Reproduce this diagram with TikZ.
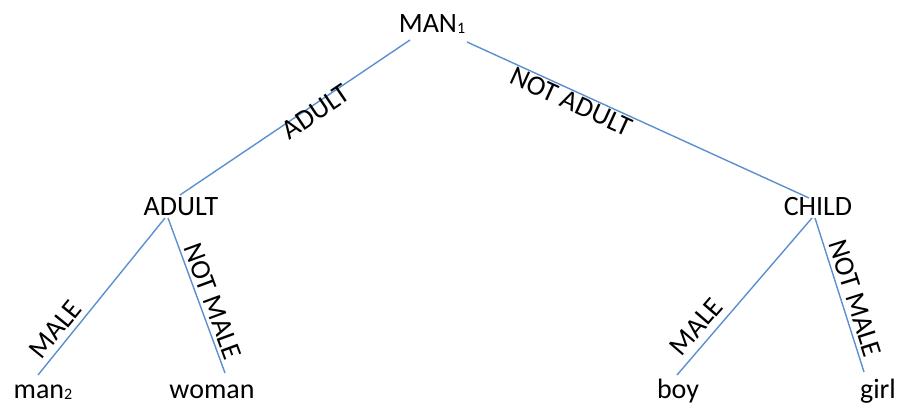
\documentclass[tikz,border=0pt]{standalone}
\usepackage{fontspec}
\setmainfont{Carlito}
\definecolor{edgeblue}{RGB}{91,143,208}
\newcommand{\subnum}[1]{\raisebox{-1pt}{\fontsize{16}{16}\selectfont #1}}
\begin{document}
\begin{tikzpicture}[x=1pt,y=-1pt,
  every node/.style={font=\fontsize{28}{34}\selectfont, text=black},
  word/.style={anchor=base, inner sep=0pt},
  link/.style={draw=edgeblue, line width=1.4pt},
  elabel/.style={sloped, inner sep=0pt, anchor=center}]
\useasboundingbox (0,0) rectangle (902,403);
\node[word] (man) at (432,33) {MAN\subnum{1}};
\node[word] (adult) at (181,216) {ADULT};
\node[word] (child) at (818,216) {CHILD};
\node[word] (man2) at (43,398) {man\subnum{2}};
\node[word] (woman) at (212,398) {woman};
\node[word] (boy) at (678,398) {boy};
\node[word] (girl) at (878,398) {girl};

\draw[link] ([xshift=-1pt,yshift=21pt]adult.base) -- node[elabel, pos=0.574, yshift=-7pt] (l1) {ADULT} ([xshift=-22pt,yshift=-7pt]man.base);
\draw[link] ([xshift=35pt,yshift=-9pt]man.base) -- node[elabel, pos=0.318, yshift=-11pt] (l2) {NOT ADULT} ([xshift=-9pt,yshift=18pt]child.base);
\draw[link] ([xshift=-5pt,yshift=23pt]man2.base) -- node[elabel, pos=0.23, yshift=15pt] (l3) {MALE} ([xshift=-16pt,yshift=-2pt]adult.base);
\draw[link] ([xshift=-13pt,yshift=-2pt]adult.base) -- node[elabel, pos=0.566, yshift=13.5pt] (l4) {NOT MALE} ([xshift=13pt,yshift=25pt]woman.base);
\draw[link] ([xshift=-1pt,yshift=23pt]boy.base) -- node[elabel, pos=0.237, yshift=17pt] (l5) {MALE} ([xshift=-6pt,yshift=-2pt]child.base);
\draw[link] ([xshift=-3pt,yshift=-2pt]child.base) -- node[elabel, pos=0.55, yshift=14pt] (l6) {NOT MALE} ([xshift=-14pt,yshift=26pt]girl.base);
\end{tikzpicture}
\end{document}
